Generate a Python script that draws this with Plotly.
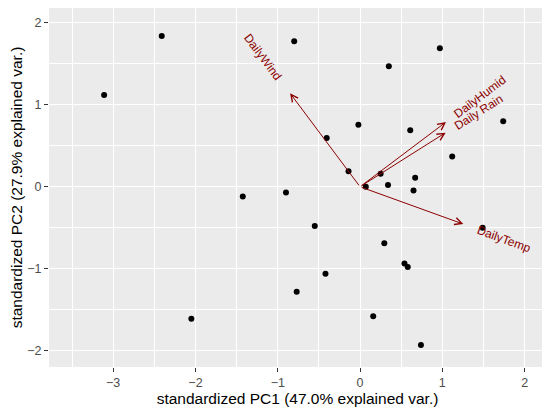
import math
import plotly.graph_objects as go

# PCA scores (standardized PC1, PC2)
pc1 = [-3.11, -2.41, -0.80, -1.425, -0.90, -0.77, -2.05,
       0.97, 0.35, -0.02, -0.405, 0.61, 1.74, 1.12, -0.14, 0.25, 0.67, 0.07, 0.34, 0.65,
       -0.55, 1.49, 0.295, 0.54, 0.58, -0.42, 0.16, 0.74]
pc2 = [1.12, 1.84, 1.775, -0.12, -0.07, -1.28, -1.61,
       1.69, 1.47, 0.757, 0.595, 0.69, 0.80, 0.37, 0.19, 0.16, 0.11, 0.0, 0.02, -0.045,
       -0.48, -0.50, -0.69, -0.935, -0.98, -1.06, -1.58, -1.93]

# variable loadings (arrow tips)
var_names = ["DailyWind", "DailyHumid", "Daily Rain", "DailyTemp"]
var_x = [-0.85, 1.045, 1.04, 1.255]
var_y = [1.14, 0.79, 0.66, -0.455]
label_scale = 1.39

x_title = "standardized PC1 (47.0% explained var.)"
y_title = "standardized PC2 (27.9% explained var.)"

DARKRED = "#8B0000"
FONT = "Liberation Sans, Arial, sans-serif"

fig = go.Figure()
fig.add_trace(go.Scatter(x=pc1, y=pc2, mode="markers",
                         marker=dict(color="black", size=6),
                         hoverinfo="skip", showlegend=False))

annotations = []
for name, vx, vy in zip(var_names, var_x, var_y):
    annotations.append(dict(x=vx, y=vy, ax=0, ay=0, xref="x", yref="y",
                            axref="x", ayref="y", text="", showarrow=True,
                            arrowhead=5, arrowsize=1.4, arrowwidth=1,
                            arrowcolor=DARKRED, standoff=0, startstandoff=0))
    ang = math.degrees(math.atan(vy / vx))
    annotations.append(dict(x=vx * label_scale, y=vy * label_scale, xref="x", yref="y",
                            text=name, showarrow=False, textangle=-ang,
                            xanchor="center", yanchor="middle",
                            font=dict(family=FONT, size=12, color=DARKRED)))

axis_common = dict(showgrid=True, gridcolor="white", gridwidth=1.1,
                   zeroline=False, showline=False, automargin=False,
                   ticks="outside", ticklen=4, tickwidth=1.1, tickcolor="#333333",
                   tickfont=dict(family=FONT, size=12.5, color="#4D4D4D"),
                   minor=dict(dtick=0.5, showgrid=True, gridcolor="white", gridwidth=0.55, ticks=""))

# page has an 8px body margin, so the figure is sized to the visible area
fig.update_layout(
    width=542, height=406,
    margin=dict(l=41, r=4, t=0, b=47, autoexpand=False),
    paper_bgcolor="white", plot_bgcolor="#EBEBEB",
    xaxis=dict(range=[-3.78, 2.26], dtick=1, tick0=0,
               title=dict(text=x_title, font=dict(family=FONT, size=15.5, color="black"), standoff=3),
               **axis_common),
    yaxis=dict(range=[-2.198, 2.18], dtick=1, tick0=0,
               title=dict(text=y_title, font=dict(family=FONT, size=15.5, color="black"), standoff=6),
               **axis_common),
    annotations=annotations,
)

fig.write_html("out.html")
